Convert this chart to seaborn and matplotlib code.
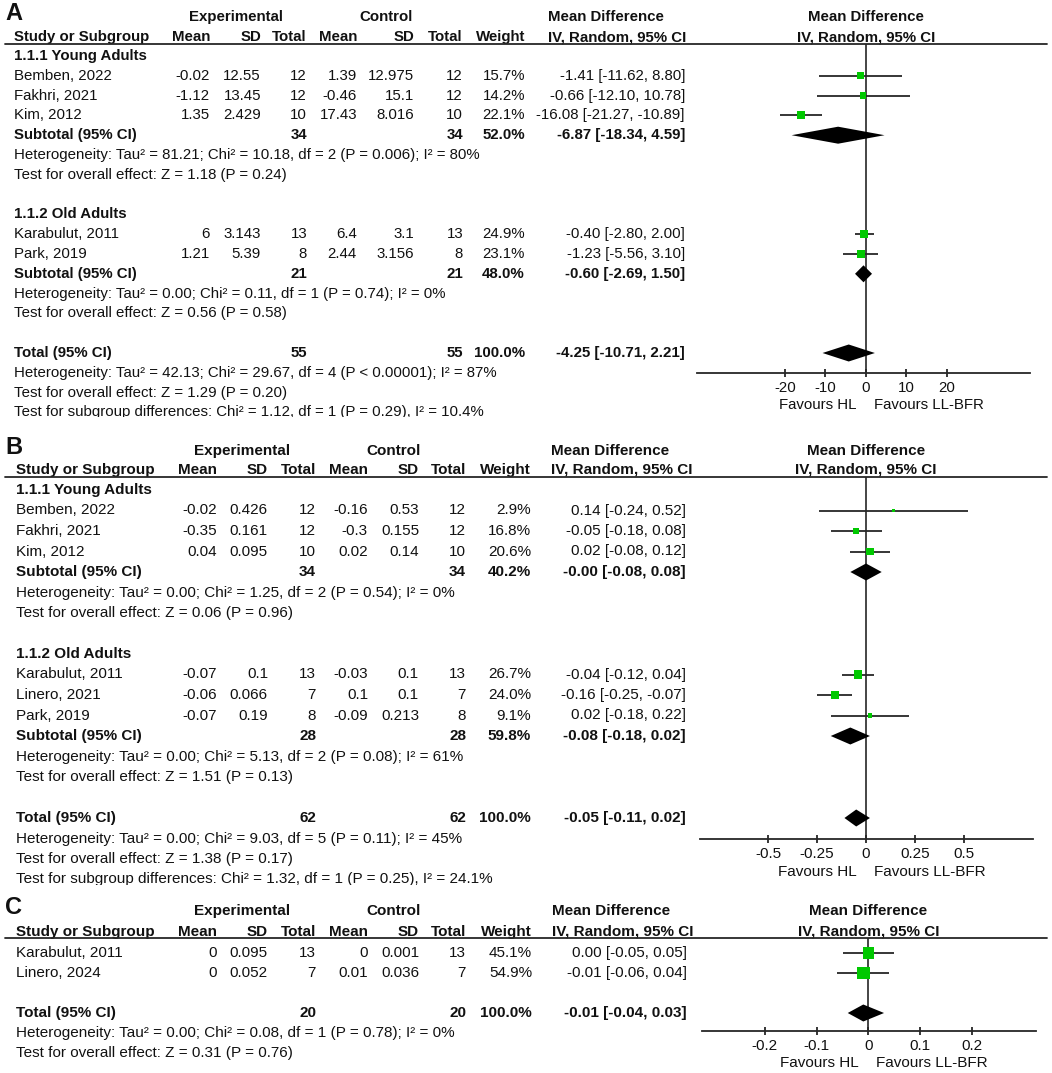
import numpy as np
import pandas as pd
import matplotlib
matplotlib.use("Agg")
import matplotlib.pyplot as plt
import matplotlib.transforms as mtransforms
from matplotlib.patches import Rectangle
import seaborn as sns

# ======================= DATA =======================
# ---- Panel A ----
A_study = ["Bemben, 2022", "Fakhri, 2021", "Kim, 2012", "Karabulut, 2011", "Park, 2019"]
A_group = [0, 0, 0, 1, 1]
A_exp_mean = [-0.02, -1.12, 1.35, 6, 1.21]
A_exp_sd = [12.55, 13.45, 2.429, 3.143, 5.39]
A_exp_n = [12, 12, 10, 13, 8]
A_ctl_mean = [1.39, -0.46, 17.43, 6.4, 2.44]
A_ctl_sd = [12.975, 15.1, 8.016, 3.1, 3.156]
A_ctl_n = [12, 12, 10, 13, 8]
A_weight = [15.7, 14.2, 22.1, 24.9, 23.1]
A_md = [-1.41, -0.66, -16.08, -0.40, -1.23]
A_lo = [-11.62, -12.10, -21.27, -2.80, -5.56]
A_hi = [8.80, 10.78, -10.89, 2.00, 3.10]
A_sub_names = ["1.1.1 Young Adults", "1.1.2 Old Adults"]
A_sub_n_exp = [34, 21]
A_sub_n_ctl = [34, 21]
A_sub_weight = [52.0, 48.0]
A_sub_md = [-6.87, -0.60]
A_sub_lo = [-18.34, -2.69]
A_sub_hi = [4.59, 1.50]
A_sub_het = ["Heterogeneity: Tau² = 81.21; Chi² = 10.18, df = 2 (P = 0.006); I² = 80%",
             "Heterogeneity: Tau² = 0.00; Chi² = 0.11, df = 1 (P = 0.74); I² = 0%"]
A_sub_z = ["Test for overall effect: Z = 1.18 (P = 0.24)",
           "Test for overall effect: Z = 0.56 (P = 0.58)"]
A_tot = [55, 55, 100.0, -4.25, -10.71, 2.21]  # n_exp, n_ctl, weight, md, lo, hi
A_tot_notes = ["Heterogeneity: Tau² = 42.13; Chi² = 29.67, df = 4 (P < 0.00001); I² = 87%",
               "Test for overall effect: Z = 1.29 (P = 0.20)",
               "Test for subgroup differences: Chi² = 1.12, df = 1 (P = 0.29), I² = 10.4%"]
A_ticks = [-20, -10, 0, 10, 20]

# ---- Panel B ----
B_study = ["Bemben, 2022", "Fakhri, 2021", "Kim, 2012", "Karabulut, 2011", "Linero, 2021", "Park, 2019"]
B_group = [0, 0, 0, 1, 1, 1]
B_exp_mean = [-0.02, -0.35, 0.04, -0.07, -0.06, -0.07]
B_exp_sd = [0.426, 0.161, 0.095, 0.1, 0.066, 0.19]
B_exp_n = [12, 12, 10, 13, 7, 8]
B_ctl_mean = [-0.16, -0.3, 0.02, -0.03, 0.1, -0.09]
B_ctl_sd = [0.53, 0.155, 0.14, 0.1, 0.1, 0.213]
B_ctl_n = [12, 12, 10, 13, 7, 8]
B_weight = [2.9, 16.8, 20.6, 26.7, 24.0, 9.1]
B_md = [0.14, -0.05, 0.02, -0.04, -0.16, 0.02]
B_lo = [-0.24, -0.18, -0.08, -0.12, -0.25, -0.18]
B_hi = [0.52, 0.08, 0.12, 0.04, -0.07, 0.22]
B_sub_names = ["1.1.1 Young Adults", "1.1.2 Old Adults"]
B_sub_n_exp = [34, 28]
B_sub_n_ctl = [34, 28]
B_sub_weight = [40.2, 59.8]
B_sub_md = [-0.0, -0.08]
B_sub_lo = [-0.08, -0.18]
B_sub_hi = [0.08, 0.02]
B_sub_het = ["Heterogeneity: Tau² = 0.00; Chi² = 1.25, df = 2 (P = 0.54); I² = 0%",
             "Heterogeneity: Tau² = 0.00; Chi² = 5.13, df = 2 (P = 0.08); I² = 61%"]
B_sub_z = ["Test for overall effect: Z = 0.06 (P = 0.96)",
           "Test for overall effect: Z = 1.51 (P = 0.13)"]
B_tot = [62, 62, 100.0, -0.05, -0.11, 0.02]
B_tot_notes = ["Heterogeneity: Tau² = 0.00; Chi² = 9.03, df = 5 (P = 0.11); I² = 45%",
               "Test for overall effect: Z = 1.38 (P = 0.17)",
               "Test for subgroup differences: Chi² = 1.32, df = 1 (P = 0.25), I² = 24.1%"]
B_ticks = [-0.5, -0.25, 0, 0.25, 0.5]

# ---- Panel C ----
C_study = ["Karabulut, 2011", "Linero, 2024"]
C_group = [None, None]
C_exp_mean = [0, 0]
C_exp_sd = [0.095, 0.052]
C_exp_n = [13, 7]
C_ctl_mean = [0, 0.01]
C_ctl_sd = [0.001, 0.036]
C_ctl_n = [13, 7]
C_weight = [45.1, 54.9]
C_md = [0.00, -0.01]
C_lo = [-0.05, -0.06]
C_hi = [0.05, 0.04]
C_tot = [20, 20, 100.0, -0.01, -0.04, 0.03]
C_tot_notes = ["Heterogeneity: Tau² = 0.00; Chi² = 0.08, df = 1 (P = 0.78); I² = 0%",
               "Test for overall effect: Z = 0.31 (P = 0.76)"]
C_ticks = [-0.2, -0.1, 0, 0.1, 0.2]

# ======================= STYLE / LAYOUT =======================
sns.set_theme(style="white")
plt.rcParams["font.family"] = ["Liberation Sans", "DejaVu Sans"]

W, H = 1052, 1073
TXT = "#111111"
GREEN = "#00c800"
LINE = "#262626"

fig = plt.figure(figsize=(W / 100, H / 100), dpi=100)
fig.patch.set_facecolor("white")
bg = fig.add_axes([0, 0, 1, 1])
bg.set_xlim(0, W)
bg.set_ylim(H, 0)
bg.axis("off")

LAY_A = dict(label="A", fs=10.8, h1=17, h2=37, line=43.5, row0=56, pitch=19.8,
             study_x=14, cols=[210, 261, 307, 357, 414, 463, 525], ci_x=685, md_x=548,
             exp_c=236, ctl_c=386, ax_l=697, ax_r=1030, xlim=(-41.7, 40.5),
             axis_y=373, fav_y=405, sq=1.45, cut=(417, 432))
LAY_B = dict(label="B", fs=11.0, h1=451, h2=470, line=476.5, row0=490, pitch=20.5,
             study_x=16, cols=[217, 268, 316, 368, 419, 466, 531], ci_x=686, md_x=551,
             exp_c=242, ctl_c=394, ax_l=700, ax_r=1033, xlim=(-0.847, 0.852),
             axis_y=839, fav_y=872, sq=1.3, cut=(884.5, 894))
LAY_C = dict(label="C", fs=11.0, h1=911, h2=932, line=938, row0=953, pitch=20.0,
             study_x=16, cols=[217, 268, 316, 368, 419, 466, 532], ci_x=687, md_x=552,
             exp_c=242, ctl_c=394, ax_l=702, ax_r=1036, xlim=(-0.321, 0.323),
             axis_y=1031, fav_y=1063, sq=1.55, cut=None)


def fmt(v):
    return f"{v:g}"


def ci_txt(md, lo, hi):
    return f"{md:.2f} [{lo:.2f}, {hi:.2f}]"


def txt(x, y, s, ha="left", bold=False, fs=11, zorder=3, **kw):
    bg.text(x, y, s, ha=ha, va="center", fontsize=fs, color=TXT,
            fontweight="bold" if bold else "normal", zorder=zorder, **kw)


def draw_panel(P, L):
    fs = L["fs"]
    cols = L["cols"]
    ax = fig.add_axes([L["ax_l"] / W, 1 - L["axis_y"] / H,
                       (L["ax_r"] - L["ax_l"]) / W, (L["axis_y"] - L["line"]) / H])
    ax.patch.set_alpha(0)
    blend = mtransforms.blended_transform_factory(ax.transData, bg.transData)

    # header
    txt(5, L["h1"] - 3, L["label"], bold=True, fs=17, zorder=6)
    txt(L["exp_c"], L["h1"], "Experimental", ha="center", bold=True, fs=fs)
    txt(L["ctl_c"], L["h1"], "Control", ha="center", bold=True, fs=fs)
    txt(L["md_x"], L["h1"], "Mean Difference", bold=True, fs=fs)
    bg.text(0, L["h1"], "Mean Difference", transform=blend, ha="center", va="center",
            fontsize=fs, fontweight="bold", color=TXT)
    txt(L["study_x"], L["h2"], "Study or Subgroup", bold=True, fs=fs)
    for x, t in zip(cols, ["Mean", "SD", "Total", "Mean", "SD", "Total", "Weight"]):
        txt(x, L["h2"], t, ha="right", bold=True, fs=fs)
    txt(L["md_x"], L["h2"], "IV, Random, 95% CI", bold=True, fs=fs)
    bg.text(0, L["h2"], "IV, Random, 95% CI", transform=blend, ha="center", va="center",
            fontsize=fs, fontweight="bold", color=TXT)
    bg.plot([5, 1047], [L["line"], L["line"]], color=LINE, lw=1.3, zorder=4)

    # rows
    rows = []
    if P["sub_names"]:
        for g, name in enumerate(P["sub_names"]):
            rows.append(("head", name))
            for i, gg in enumerate(P["group"]):
                if gg == g:
                    rows.append(("study", i))
            rows.append(("sub", g))
            rows.append(("note", P["sub_het"][g]))
            rows.append(("note", P["sub_z"][g]))
            rows.append(("blank", None))
    else:
        for i in range(len(P["study"])):
            rows.append(("study", i))
        rows.append(("blank", None))
    rows.append(("total", None))
    for t in P["tot_notes"]:
        rows.append(("note", t))

    st_y, st_i, dia = [], [], []
    for k, (kind, val) in enumerate(rows):
        y = L["row0"] + k * L["pitch"]
        if kind == "head":
            txt(L["study_x"], y, val, bold=True, fs=fs)
        elif kind == "note":
            txt(L["study_x"], y, val, fs=fs)
        elif kind == "study":
            i = val
            txt(L["study_x"], y, P["study"][i], fs=fs)
            vals = [fmt(P["exp_mean"][i]), fmt(P["exp_sd"][i]), fmt(P["exp_n"][i]),
                    fmt(P["ctl_mean"][i]), fmt(P["ctl_sd"][i]), fmt(P["ctl_n"][i]),
                    f"{P['weight'][i]:.1f}%"]
            for x, s in zip(cols, vals):
                txt(x, y, s, ha="right", fs=fs)
            txt(L["ci_x"], y, ci_txt(P["md"][i], P["lo"][i], P["hi"][i]), ha="right", fs=fs)
            st_y.append(y)
            st_i.append(i)
        elif kind in ("sub", "total"):
            if kind == "sub":
                g = val
                ne, nc, w = P["sub_n_exp"][g], P["sub_n_ctl"][g], P["sub_weight"][g]
                md, lo, hi = P["sub_md"][g], P["sub_lo"][g], P["sub_hi"][g]
                lab = "Subtotal (95% CI)"
            else:
                ne, nc, w, md, lo, hi = P["tot"]
                lab = "Total (95% CI)"
            txt(L["study_x"], y, lab, bold=True, fs=fs)
            txt(cols[2], y, fmt(ne), ha="right", bold=True, fs=fs)
            txt(cols[5], y, fmt(nc), ha="right", bold=True, fs=fs)
            txt(cols[6], y, f"{w:.1f}%", ha="right", bold=True, fs=fs)
            txt(L["ci_x"], y, ci_txt(md, lo, hi), ha="right", bold=True, fs=fs)
            dia.append((y, md, lo, hi))

    # the last text line of panels A and B is clipped by the next panel in the source
    if L["cut"] is not None:
        bg.add_patch(Rectangle((0, L["cut"][0]), 690, L["cut"][1] - L["cut"][0],
                               facecolor="white", edgecolor="none", zorder=5))

    # forest marks
    df = pd.DataFrame({"md": [P["md"][i] for i in st_i],
                       "lo": [P["lo"][i] for i in st_i],
                       "hi": [P["hi"][i] for i in st_i],
                       "w": [P["weight"][i] for i in st_i],
                       "y": st_y})
    ax.hlines(df["y"], df["lo"], df["hi"], colors=LINE, lw=1.3, zorder=2)
    sns.scatterplot(data=df, x="md", y="y", marker="s", color=GREEN,
                    s=L["sq"] * df["w"], linewidth=0, legend=False, ax=ax, zorder=3)
    hh = 8.5
    for (y, md, lo, hi) in dia:
        ax.fill([lo, md, hi, md], [y, y - hh, y, y + hh], color="black", lw=0, zorder=3)
    ax.axvline(0, color=LINE, lw=1.2, zorder=1)

    ax.set_xlim(L["xlim"])
    ax.set_ylim(L["axis_y"], L["line"])
    ax.set_xlabel("")
    ax.set_ylabel("")
    ax.set_yticks([])
    for s in ["top", "right", "left"]:
        ax.spines[s].set_visible(False)
    ax.spines["bottom"].set_linewidth(1.3)
    ax.spines["bottom"].set_color(LINE)
    ax.set_xticks(P["ticks"])
    ax.set_xticklabels([fmt(t) for t in P["ticks"]])
    ax.tick_params(axis="x", direction="inout", length=6, width=1.3, color=LINE,
                   labelsize=fs, labelcolor=TXT, pad=2.5, bottom=True)

    bg.annotate("Favours HL", xy=(0, L["fav_y"]), xycoords=blend, xytext=(-7, 0),
                textcoords="offset points", ha="right", va="center", fontsize=fs, color=TXT)
    bg.annotate("Favours LL-BFR", xy=(0, L["fav_y"]), xycoords=blend, xytext=(5.5, 0),
                textcoords="offset points", ha="left", va="center", fontsize=fs, color=TXT)


PA = dict(study=A_study, group=A_group, exp_mean=A_exp_mean, exp_sd=A_exp_sd, exp_n=A_exp_n,
          ctl_mean=A_ctl_mean, ctl_sd=A_ctl_sd, ctl_n=A_ctl_n, weight=A_weight,
          md=A_md, lo=A_lo, hi=A_hi, sub_names=A_sub_names, sub_n_exp=A_sub_n_exp,
          sub_n_ctl=A_sub_n_ctl, sub_weight=A_sub_weight, sub_md=A_sub_md,
          sub_lo=A_sub_lo, sub_hi=A_sub_hi, sub_het=A_sub_het, sub_z=A_sub_z,
          tot=A_tot, tot_notes=A_tot_notes, ticks=A_ticks)
PB = dict(study=B_study, group=B_group, exp_mean=B_exp_mean, exp_sd=B_exp_sd, exp_n=B_exp_n,
          ctl_mean=B_ctl_mean, ctl_sd=B_ctl_sd, ctl_n=B_ctl_n, weight=B_weight,
          md=B_md, lo=B_lo, hi=B_hi, sub_names=B_sub_names, sub_n_exp=B_sub_n_exp,
          sub_n_ctl=B_sub_n_ctl, sub_weight=B_sub_weight, sub_md=B_sub_md,
          sub_lo=B_sub_lo, sub_hi=B_sub_hi, sub_het=B_sub_het, sub_z=B_sub_z,
          tot=B_tot, tot_notes=B_tot_notes, ticks=B_ticks)
PC = dict(study=C_study, group=C_group, exp_mean=C_exp_mean, exp_sd=C_exp_sd, exp_n=C_exp_n,
          ctl_mean=C_ctl_mean, ctl_sd=C_ctl_sd, ctl_n=C_ctl_n, weight=C_weight,
          md=C_md, lo=C_lo, hi=C_hi, sub_names=None, tot=C_tot, tot_notes=C_tot_notes,
          ticks=C_ticks)

draw_panel(PA, LAY_A)
draw_panel(PB, LAY_B)
draw_panel(PC, LAY_C)

fig.savefig("out.png", dpi=100, facecolor="white")
